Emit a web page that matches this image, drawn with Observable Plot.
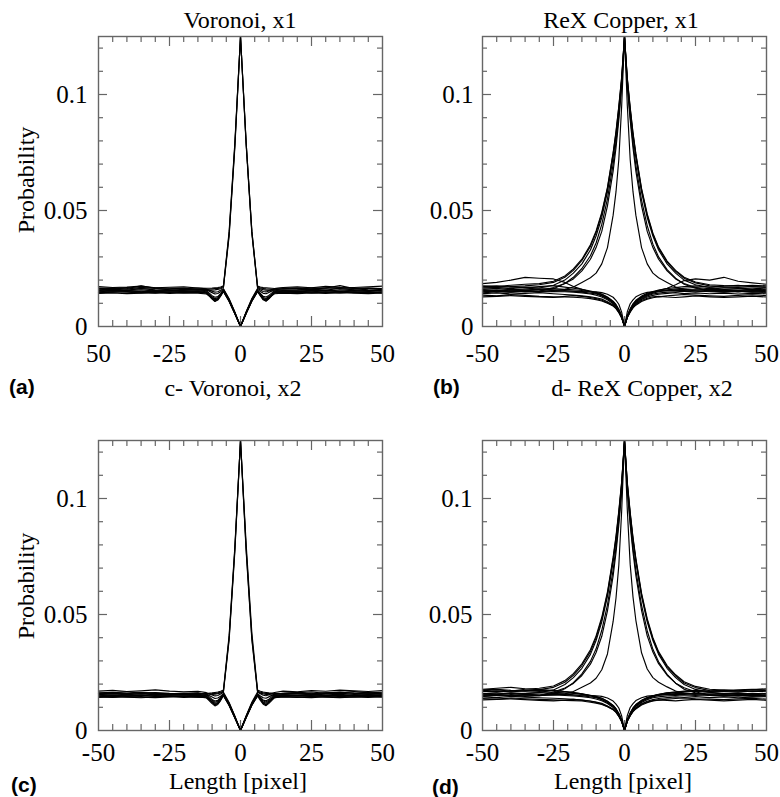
<!DOCTYPE html>
<html><head><meta charset="utf-8">
<script src="https://cdn.jsdelivr.net/npm/d3@7"></script>
<script src="https://cdn.jsdelivr.net/npm/@observablehq/plot@0.6"></script>
<style>
body{margin:0;background:#fff;}
#root{position:relative;width:780px;height:797px;background:#fff;overflow:hidden;}
.panel{position:absolute;width:390px;height:400px;}
.panel svg{overflow:visible;}
.panel svg text{font-family:"Liberation Serif","Times New Roman",serif !important;font-size:25px !important;font-variant:normal !important;}
.t{position:absolute;font-family:"Liberation Serif","Times New Roman",serif;font-size:24px;color:#000;white-space:nowrap;transform:translate(-50%,-50%);line-height:1;}
.lab{position:absolute;font-family:"Liberation Sans",Arial,sans-serif;font-weight:bold;font-size:21px;color:#000;white-space:nowrap;transform:translate(0,-50%);line-height:1;}
.ylab{position:absolute;font-family:"Liberation Serif","Times New Roman",serif;font-size:24px;color:#000;white-space:nowrap;transform:translate(-50%,-50%) rotate(-90deg);line-height:1;}
</style></head><body><div id="root"></div>
<script>
// ---------- axis ticks ----------
const xTicks = [-50, -25, 0, 25, 50];
const xTickLabelsA = ["50", "-25", "0", "25", "50"];
const xTickLabels = ["-50", "-25", "0", "25", "50"];
const yTicks = [0, 0.05, 0.1];
const yTickLabels = ["0", "0.05", "0.1"];
const xMinor = [-45, -40, -35, -30, -20, -15, -10, -5, 5, 10, 15, 20, 30, 35, 40, 45];
const xMajor = [-25, 0, 25];
const yMinor = [0.01, 0.02, 0.03, 0.04, 0.06, 0.07, 0.08, 0.09, 0.11, 0.12];
const yMajor = [0.05, 0.1];

// ---------- Voronoi grid (length, pixel) ----------
const gxV = [-50,-45,-40,-35,-30,-25,-20,-15,-12,-10,-9,-8,-7,-6,-4,-2,0,2,4,6,7,8,9,10,12,15,20,25,30,35,40,45,50];

// panel (a) Voronoi, x1
const a_p1 = [0.0158,0.0161,0.0157,0.0163,0.0158,0.0156,0.0160,0.0158,0.0160,0.0162,0.0163,0.0164,0.0166,0.0172,0.040,0.078,0.125,0.079,0.041,0.0170,0.0166,0.0164,0.0162,0.0161,0.0159,0.0157,0.0158,0.0161,0.0157,0.0164,0.0158,0.0156,0.0160];
const a_p2 = [0.0150,0.0153,0.0156,0.0150,0.0152,0.0149,0.0151,0.0153,0.0155,0.0157,0.0158,0.0160,0.0163,0.0168,0.039,0.077,0.125,0.078,0.040,0.0167,0.0162,0.0159,0.0157,0.0155,0.0153,0.0150,0.0152,0.0149,0.0154,0.0150,0.0152,0.0155,0.0151];
const a_p3 = [0.0166,0.0163,0.0168,0.0164,0.0167,0.0165,0.0163,0.0166,0.0165,0.0166,0.0167,0.0168,0.0170,0.0175,0.041,0.079,0.125,0.079,0.041,0.0174,0.0170,0.0168,0.0167,0.0166,0.0164,0.0166,0.0163,0.0167,0.0165,0.0168,0.0164,0.0166,0.0163];
const a_d1 = [0.0155,0.0152,0.0156,0.0158,0.0153,0.0155,0.0152,0.0154,0.0150,0.0122,0.0112,0.0118,0.0135,0.0155,0.0112,0.0058,0,0.0059,0.0113,0.0154,0.0136,0.0119,0.0113,0.0123,0.0150,0.0155,0.0153,0.0156,0.0152,0.0158,0.0154,0.0153,0.0157];
const a_d2 = [0.0147,0.0150,0.0148,0.0145,0.0149,0.0147,0.0150,0.0148,0.0144,0.0118,0.0108,0.0114,0.0131,0.0152,0.0109,0.0055,0,0.0056,0.0110,0.0151,0.0132,0.0115,0.0109,0.0119,0.0145,0.0149,0.0146,0.0150,0.0147,0.0145,0.0149,0.0148,0.0146];
const a_d3 = [0.0163,0.0166,0.0161,0.0169,0.0164,0.0162,0.0165,0.0161,0.0158,0.0146,0.0140,0.0142,0.0150,0.0160,0.0117,0.0061,0,0.0062,0.0118,0.0160,0.0151,0.0143,0.0141,0.0147,0.0158,0.0163,0.0166,0.0162,0.0167,0.0163,0.0161,0.0165,0.0162];
const a_d4 = [0.0145,0.0148,0.0151,0.0147,0.0144,0.0149,0.0146,0.0148,0.0145,0.0128,0.0120,0.0124,0.0138,0.0152,0.0110,0.0057,0,0.0058,0.0111,0.0151,0.0139,0.0125,0.0121,0.0129,0.0146,0.0146,0.0149,0.0145,0.0148,0.0151,0.0146,0.0148,0.0144];
const a_d5 = [0.0172,0.0168,0.0170,0.0174,0.0167,0.0169,0.0171,0.0166,0.0162,0.0152,0.0148,0.0150,0.0156,0.0163,0.0120,0.0063,0,0.0064,0.0121,0.0164,0.0157,0.0151,0.0149,0.0153,0.0163,0.0168,0.0171,0.0167,0.0173,0.0169,0.0168,0.0171,0.0174];
const a_d6 = [0.0152,0.0157,0.0153,0.0150,0.0156,0.0158,0.0154,0.0151,0.0148,0.0120,0.0110,0.0116,0.0133,0.0154,0.0113,0.0058,0,0.0059,0.0113,0.0153,0.0134,0.0117,0.0111,0.0121,0.0148,0.0153,0.0150,0.0155,0.0157,0.0152,0.0155,0.0151,0.0154];
const a_d7 = [0.0143,0.0145,0.0142,0.0144,0.0146,0.0143,0.0145,0.0144,0.0140,0.0124,0.0116,0.0120,0.0134,0.0150,0.0108,0.0055,0,0.0056,0.0109,0.0150,0.0135,0.0121,0.0117,0.0125,0.0141,0.0144,0.0142,0.0145,0.0143,0.0146,0.0144,0.0142,0.0145];
const a_d8 = [0.0157,0.0160,0.0164,0.0175,0.0165,0.0158,0.0156,0.0159,0.0154,0.0133,0.0126,0.0129,0.0142,0.0157,0.0114,0.0059,0,0.0060,0.0115,0.0156,0.0143,0.0130,0.0127,0.0134,0.0154,0.0158,0.0157,0.0160,0.0166,0.0176,0.0163,0.0158,0.0156];

// panel (c) Voronoi, x2
const c_p1 = [0.0155,0.0158,0.0154,0.0159,0.0156,0.0153,0.0157,0.0155,0.0159,0.0162,0.0164,0.0166,0.0169,0.0175,0.041,0.079,0.125,0.080,0.042,0.0174,0.0169,0.0166,0.0164,0.0162,0.0160,0.0156,0.0158,0.0155,0.0159,0.0161,0.0156,0.0158,0.0155];
const c_p2 = [0.0162,0.0165,0.0160,0.0163,0.0160,0.0158,0.0161,0.0159,0.0158,0.0159,0.0160,0.0162,0.0165,0.0170,0.040,0.078,0.125,0.078,0.040,0.0169,0.0165,0.0162,0.0160,0.0159,0.0157,0.0160,0.0163,0.0158,0.0162,0.0165,0.0161,0.0163,0.0160];
const c_p3 = [0.0148,0.0151,0.0149,0.0152,0.0148,0.0150,0.0147,0.0150,0.0152,0.0155,0.0157,0.0159,0.0162,0.0167,0.039,0.077,0.125,0.077,0.039,0.0166,0.0161,0.0158,0.0156,0.0154,0.0151,0.0149,0.0151,0.0148,0.0150,0.0152,0.0149,0.0151,0.0148];
const c_d1 = [0.0150,0.0153,0.0149,0.0147,0.0151,0.0148,0.0150,0.0152,0.0147,0.0120,0.0110,0.0116,0.0133,0.0153,0.0111,0.0057,0,0.0058,0.0112,0.0152,0.0134,0.0117,0.0111,0.0121,0.0148,0.0152,0.0149,0.0151,0.0147,0.0150,0.0153,0.0149,0.0151];
const c_d2 = [0.0143,0.0146,0.0144,0.0141,0.0145,0.0147,0.0143,0.0145,0.0141,0.0116,0.0106,0.0112,0.0129,0.0150,0.0108,0.0054,0,0.0055,0.0109,0.0149,0.0130,0.0113,0.0107,0.0117,0.0142,0.0146,0.0144,0.0142,0.0146,0.0143,0.0145,0.0147,0.0144];
const c_d3 = [0.0160,0.0163,0.0167,0.0161,0.0164,0.0160,0.0158,0.0161,0.0156,0.0144,0.0138,0.0140,0.0148,0.0159,0.0117,0.0061,0,0.0062,0.0118,0.0159,0.0149,0.0141,0.0139,0.0145,0.0157,0.0160,0.0163,0.0166,0.0160,0.0164,0.0168,0.0162,0.0165];
const c_d4 = [0.0148,0.0145,0.0150,0.0152,0.0147,0.0150,0.0148,0.0146,0.0146,0.0130,0.0122,0.0126,0.0139,0.0152,0.0110,0.0056,0,0.0057,0.0111,0.0151,0.0140,0.0127,0.0123,0.0131,0.0147,0.0147,0.0150,0.0148,0.0152,0.0146,0.0149,0.0151,0.0148];
const c_d5 = [0.0170,0.0173,0.0168,0.0171,0.0175,0.0170,0.0167,0.0169,0.0163,0.0153,0.0149,0.0151,0.0157,0.0165,0.0121,0.0063,0,0.0064,0.0122,0.0166,0.0158,0.0152,0.0150,0.0154,0.0164,0.0170,0.0167,0.0172,0.0169,0.0174,0.0171,0.0168,0.0172];
const c_d6 = [0.0156,0.0152,0.0155,0.0158,0.0154,0.0156,0.0153,0.0157,0.0150,0.0122,0.0112,0.0117,0.0134,0.0154,0.0114,0.0058,0,0.0059,0.0114,0.0153,0.0135,0.0118,0.0112,0.0122,0.0150,0.0155,0.0152,0.0157,0.0154,0.0156,0.0152,0.0155,0.0153];
const c_d7 = [0.0145,0.0143,0.0146,0.0144,0.0142,0.0145,0.0147,0.0144,0.0141,0.0125,0.0117,0.0121,0.0135,0.0151,0.0108,0.0055,0,0.0056,0.0109,0.0150,0.0136,0.0122,0.0118,0.0126,0.0142,0.0145,0.0143,0.0146,0.0144,0.0142,0.0145,0.0143,0.0146];
const c_d8 = [0.0158,0.0161,0.0159,0.0163,0.0160,0.0157,0.0159,0.0162,0.0155,0.0134,0.0127,0.0130,0.0143,0.0158,0.0115,0.0059,0,0.0060,0.0116,0.0157,0.0144,0.0131,0.0128,0.0135,0.0155,0.0159,0.0161,0.0158,0.0162,0.0166,0.0160,0.0158,0.0161];

// ---------- ReX Copper grid ----------
const gxR = [-50,-45,-40,-35,-30,-25,-21,-18,-15,-12,-10,-8,-6,-4,-3,-2,-1,0,1,2,3,4,6,8,10,12,15,18,21,25,30,35,40,45,50];

// panel (b) ReX Copper, x1
const b_p1 = [0.0160,0.0165,0.0158,0.0162,0.0166,0.0178,0.0200,0.0230,0.0270,0.0330,0.0390,0.0470,0.0580,0.0730,0.0820,0.0930,0.1060,0.1250,0.1060,0.0930,0.0820,0.0730,0.0580,0.0470,0.0390,0.0330,0.0270,0.0230,0.0200,0.0180,0.0168,0.0160,0.0163,0.0158,0.0161];
const b_p2 = [0.0170,0.0168,0.0172,0.0175,0.0180,0.0190,0.0212,0.0242,0.0285,0.0345,0.0405,0.0485,0.0595,0.0745,0.0835,0.0945,0.1070,0.1250,0.1065,0.0940,0.0830,0.0740,0.0590,0.0480,0.0398,0.0338,0.0278,0.0238,0.0208,0.0188,0.0175,0.0170,0.0168,0.0172,0.0169];
const b_p3 = [0.0150,0.0155,0.0152,0.0149,0.0153,0.0163,0.0185,0.0212,0.0250,0.0305,0.0360,0.0440,0.0550,0.0700,0.0795,0.0910,0.1045,0.1250,0.1045,0.0905,0.0790,0.0695,0.0545,0.0435,0.0355,0.0300,0.0245,0.0208,0.0182,0.0165,0.0155,0.0152,0.0150,0.0154,0.0151];
const b_p4 = [0.0145,0.0150,0.0148,0.0152,0.0150,0.0155,0.0160,0.0170,0.0190,0.0210,0.0230,0.0270,0.0340,0.0480,0.0580,0.0720,0.0950,0.1250,0.0950,0.0720,0.0580,0.0480,0.0340,0.0270,0.0230,0.0210,0.0190,0.0170,0.0160,0.0153,0.0150,0.0148,0.0152,0.0149,0.0147];
const b_p5 = [0.0175,0.0172,0.0178,0.0182,0.0185,0.0195,0.0218,0.0248,0.0290,0.0352,0.0412,0.0492,0.0600,0.0750,0.0840,0.0950,0.1075,0.1250,0.1070,0.0945,0.0835,0.0745,0.0595,0.0485,0.0402,0.0342,0.0282,0.0242,0.0212,0.0192,0.0180,0.0176,0.0174,0.0178,0.0175];
const b_p6 = [0.0155,0.0150,0.0153,0.0156,0.0152,0.0168,0.0185,0.0205,0.0240,0.0290,0.0340,0.0410,0.0520,0.0670,0.0770,0.0890,0.1030,0.1250,0.1030,0.0890,0.0770,0.0670,0.0520,0.0410,0.0340,0.0290,0.0240,0.0205,0.0185,0.0168,0.0153,0.0156,0.0150,0.0154,0.0152];
const b_d1 = [0.0150,0.0153,0.0148,0.0152,0.0149,0.0151,0.0150,0.0148,0.0145,0.0140,0.0135,0.0127,0.0115,0.0098,0.0085,0.0065,0.0040,0,0.0042,0.0068,0.0088,0.0102,0.0120,0.0132,0.0140,0.0144,0.0148,0.0150,0.0152,0.0150,0.0153,0.0149,0.0151,0.0148,0.0150];
const b_d2 = [0.0135,0.0132,0.0138,0.0134,0.0130,0.0128,0.0127,0.0126,0.0124,0.0120,0.0116,0.0110,0.0100,0.0088,0.0077,0.0060,0.0037,0,0.0039,0.0062,0.0080,0.0092,0.0108,0.0118,0.0124,0.0128,0.0132,0.0135,0.0138,0.0135,0.0132,0.0130,0.0134,0.0137,0.0133];
const b_d3 = [0.0165,0.0168,0.0163,0.0170,0.0166,0.0163,0.0160,0.0158,0.0155,0.0150,0.0145,0.0138,0.0125,0.0107,0.0093,0.0072,0.0045,0,0.0046,0.0074,0.0096,0.0110,0.0128,0.0140,0.0148,0.0153,0.0158,0.0162,0.0165,0.0168,0.0163,0.0167,0.0165,0.0162,0.0166];
const b_d4 = [0.0158,0.0155,0.0160,0.0157,0.0161,0.0158,0.0155,0.0152,0.0148,0.0144,0.0140,0.0132,0.0120,0.0102,0.0089,0.0068,0.0042,0,0.0044,0.0070,0.0091,0.0106,0.0124,0.0136,0.0144,0.0150,0.0155,0.0158,0.0160,0.0157,0.0161,0.0158,0.0156,0.0159,0.0157];
const b_d5 = [0.0185,0.0190,0.0200,0.0212,0.0208,0.0205,0.0190,0.0172,0.0160,0.0150,0.0143,0.0134,0.0122,0.0104,0.0090,0.0070,0.0043,0,0.0043,0.0071,0.0092,0.0107,0.0126,0.0139,0.0148,0.0155,0.0165,0.0180,0.0198,0.0205,0.0200,0.0212,0.0195,0.0188,0.0182];
const b_d6 = [0.0128,0.0130,0.0133,0.0130,0.0128,0.0125,0.0130,0.0133,0.0130,0.0125,0.0120,0.0113,0.0103,0.0090,0.0079,0.0062,0.0038,0,0.0040,0.0064,0.0082,0.0095,0.0112,0.0122,0.0128,0.0130,0.0127,0.0125,0.0128,0.0132,0.0128,0.0125,0.0128,0.0131,0.0127];
const b_d7 = [0.0142,0.0145,0.0140,0.0143,0.0146,0.0141,0.0138,0.0135,0.0132,0.0128,0.0124,0.0118,0.0107,0.0093,0.0081,0.0063,0.0039,0,0.0041,0.0066,0.0085,0.0098,0.0116,0.0127,0.0134,0.0139,0.0143,0.0146,0.0142,0.0145,0.0141,0.0144,0.0140,0.0143,0.0141];
const b_d8 = [0.0172,0.0175,0.0170,0.0168,0.0172,0.0176,0.0170,0.0165,0.0160,0.0153,0.0147,0.0140,0.0127,0.0109,0.0095,0.0074,0.0046,0,0.0047,0.0076,0.0098,0.0113,0.0131,0.0143,0.0151,0.0157,0.0163,0.0168,0.0172,0.0175,0.0170,0.0174,0.0177,0.0172,0.0170];
const b_d9 = [0.0155,0.0158,0.0154,0.0156,0.0159,0.0155,0.0153,0.0152,0.0151,0.0150,0.0149,0.0146,0.0139,0.0126,0.0113,0.0096,0.0062,0,0.0064,0.0098,0.0115,0.0128,0.0140,0.0147,0.0150,0.0152,0.0154,0.0156,0.0155,0.0158,0.0154,0.0157,0.0155,0.0153,0.0156];

// panel (d) ReX Copper, x2
const d_p1 = [0.0158,0.0162,0.0156,0.0160,0.0163,0.0175,0.0198,0.0228,0.0268,0.0328,0.0388,0.0468,0.0578,0.0728,0.0818,0.0928,0.1058,0.1250,0.1058,0.0928,0.0818,0.0728,0.0578,0.0468,0.0388,0.0328,0.0268,0.0228,0.0198,0.0177,0.0165,0.0158,0.0161,0.0156,0.0159];
const d_p2 = [0.0168,0.0166,0.0170,0.0172,0.0176,0.0186,0.0208,0.0238,0.0280,0.0340,0.0400,0.0480,0.0590,0.0740,0.0830,0.0940,0.1068,0.1250,0.1062,0.0935,0.0826,0.0736,0.0586,0.0476,0.0395,0.0335,0.0275,0.0235,0.0205,0.0185,0.0172,0.0168,0.0166,0.0170,0.0167];
const d_p3 = [0.0148,0.0152,0.0150,0.0147,0.0150,0.0160,0.0180,0.0206,0.0244,0.0298,0.0352,0.0432,0.0542,0.0692,0.0788,0.0905,0.1040,0.1250,0.1040,0.0900,0.0785,0.0690,0.0540,0.0430,0.0350,0.0296,0.0242,0.0204,0.0178,0.0162,0.0152,0.0150,0.0148,0.0151,0.0149];
const d_p4 = [0.0147,0.0151,0.0149,0.0153,0.0150,0.0154,0.0158,0.0168,0.0186,0.0205,0.0225,0.0262,0.0330,0.0470,0.0570,0.0712,0.0945,0.1250,0.0948,0.0716,0.0575,0.0475,0.0335,0.0265,0.0228,0.0208,0.0188,0.0170,0.0160,0.0155,0.0151,0.0149,0.0152,0.0148,0.0150];
const d_p5 = [0.0172,0.0175,0.0170,0.0178,0.0182,0.0192,0.0215,0.0245,0.0287,0.0348,0.0408,0.0488,0.0597,0.0747,0.0837,0.0947,0.1072,0.1250,0.1068,0.0942,0.0832,0.0742,0.0592,0.0482,0.0400,0.0340,0.0280,0.0240,0.0210,0.0190,0.0178,0.0174,0.0171,0.0176,0.0173];
const d_p6 = [0.0152,0.0155,0.0150,0.0154,0.0151,0.0166,0.0183,0.0203,0.0237,0.0286,0.0336,0.0406,0.0516,0.0666,0.0766,0.0886,0.1026,0.1250,0.1028,0.0888,0.0768,0.0668,0.0518,0.0408,0.0338,0.0288,0.0238,0.0204,0.0184,0.0167,0.0152,0.0155,0.0151,0.0153,0.0150];
const d_d1 = [0.0152,0.0155,0.0150,0.0154,0.0151,0.0153,0.0151,0.0149,0.0146,0.0141,0.0136,0.0128,0.0116,0.0099,0.0086,0.0066,0.0041,0,0.0043,0.0069,0.0089,0.0103,0.0121,0.0133,0.0141,0.0145,0.0149,0.0151,0.0153,0.0151,0.0154,0.0150,0.0152,0.0149,0.0151];
const d_d2 = [0.0138,0.0135,0.0140,0.0137,0.0134,0.0132,0.0130,0.0129,0.0127,0.0122,0.0118,0.0112,0.0102,0.0089,0.0078,0.0061,0.0038,0,0.0040,0.0063,0.0081,0.0093,0.0110,0.0120,0.0127,0.0131,0.0135,0.0138,0.0140,0.0137,0.0135,0.0133,0.0136,0.0139,0.0135];
const d_d3 = [0.0168,0.0170,0.0166,0.0172,0.0168,0.0165,0.0162,0.0160,0.0156,0.0151,0.0146,0.0139,0.0126,0.0108,0.0094,0.0073,0.0045,0,0.0046,0.0075,0.0097,0.0111,0.0129,0.0141,0.0149,0.0154,0.0159,0.0163,0.0166,0.0169,0.0165,0.0168,0.0166,0.0170,0.0172];
const d_d4 = [0.0160,0.0157,0.0162,0.0159,0.0163,0.0160,0.0157,0.0154,0.0150,0.0145,0.0141,0.0133,0.0121,0.0103,0.0090,0.0069,0.0043,0,0.0045,0.0071,0.0092,0.0107,0.0125,0.0137,0.0145,0.0151,0.0156,0.0159,0.0161,0.0158,0.0162,0.0159,0.0157,0.0160,0.0158];
const d_d5 = [0.0178,0.0182,0.0186,0.0180,0.0176,0.0172,0.0168,0.0164,0.0158,0.0150,0.0143,0.0134,0.0122,0.0104,0.0090,0.0070,0.0043,0,0.0043,0.0071,0.0092,0.0107,0.0126,0.0139,0.0148,0.0155,0.0162,0.0166,0.0168,0.0172,0.0170,0.0174,0.0171,0.0176,0.0180];
const d_d6 = [0.0132,0.0134,0.0136,0.0133,0.0130,0.0128,0.0131,0.0134,0.0131,0.0126,0.0121,0.0114,0.0104,0.0091,0.0080,0.0063,0.0039,0,0.0041,0.0065,0.0083,0.0096,0.0113,0.0123,0.0129,0.0132,0.0130,0.0128,0.0131,0.0134,0.0131,0.0128,0.0131,0.0134,0.0130];
const d_d7 = [0.0145,0.0142,0.0147,0.0144,0.0141,0.0139,0.0137,0.0134,0.0131,0.0127,0.0123,0.0117,0.0106,0.0092,0.0080,0.0062,0.0039,0,0.0041,0.0065,0.0084,0.0097,0.0115,0.0126,0.0133,0.0138,0.0142,0.0145,0.0143,0.0146,0.0142,0.0145,0.0141,0.0144,0.0146];
const d_d8 = [0.0175,0.0178,0.0173,0.0170,0.0174,0.0172,0.0168,0.0163,0.0158,0.0152,0.0146,0.0139,0.0126,0.0108,0.0094,0.0073,0.0046,0,0.0047,0.0075,0.0097,0.0112,0.0130,0.0142,0.0150,0.0156,0.0162,0.0166,0.0170,0.0173,0.0168,0.0172,0.0175,0.0178,0.0174];
const d_d9 = [0.0157,0.0155,0.0159,0.0156,0.0154,0.0157,0.0155,0.0153,0.0152,0.0151,0.0150,0.0147,0.0140,0.0127,0.0114,0.0097,0.0063,0,0.0065,0.0099,0.0116,0.0129,0.0141,0.0148,0.0151,0.0153,0.0155,0.0157,0.0156,0.0159,0.0155,0.0158,0.0156,0.0154,0.0157];

// ---------- drawing ----------
const SERIF = "Liberation Serif, Times New Roman, serif";
function rowsOf(gx, curves) {
  const rows = [];
  curves.forEach((vals, k) => vals.forEach((v, i) => { if (i < gx.length) rows.push({x: gx[i], y: v, id: k}); }));
  return rows;
}

function panel(gx, curves, o) {
  const W = 390, H = 400;
  const fw = W - o.ml - o.mr, fh = H - o.mt - o.mb;
  const xl = new Map(xTicks.map((t, i) => [t, o.xlabels[i]]));
  const yl = new Map(yTicks.map((t, i) => [t, yTickLabels[i]]));
  const tc = "#666";
  return Plot.plot({
    width: W, height: H,
    marginLeft: o.ml, marginRight: o.mr, marginTop: o.mt, marginBottom: o.mb,
    x: {domain: [-50, 50]},
    y: {domain: [0, 0.125]},
    style: {fontFamily: SERIF, fontSize: "25px", color: "#000", background: "transparent"},
    marks: [
      Plot.tickY(yMinor, {y: d => d, stroke: tc, strokeWidth: 1.2, insetRight: fw - 5}),
      Plot.tickY(yMinor, {y: d => d, stroke: tc, strokeWidth: 1.2, insetLeft: fw - 5}),
      Plot.tickY(yMajor, {y: d => d, stroke: tc, strokeWidth: 1.2, insetRight: fw - 9}),
      Plot.tickY(yMajor, {y: d => d, stroke: tc, strokeWidth: 1.2, insetLeft: fw - 9}),
      Plot.tickX(xMinor, {x: d => d, stroke: tc, strokeWidth: 1.2, insetTop: fh - 6}),
      Plot.tickX(xMinor, {x: d => d, stroke: tc, strokeWidth: 1.2, insetBottom: fh - 6}),
      Plot.tickX(xMajor, {x: d => d, stroke: tc, strokeWidth: 1.2, insetTop: fh - 10}),
      Plot.tickX(xMajor, {x: d => d, stroke: tc, strokeWidth: 1.2, insetBottom: fh - 10}),
      Plot.line(rowsOf(gx, curves), {x: "x", y: "y", z: "id", stroke: "#000", strokeWidth: 1.15}),
      Plot.frame({stroke: tc, strokeWidth: 1.4}),
      Plot.axisX(xTicks, {tickSize: 0, tickPadding: o.xpad, label: null, tickFormat: d => xl.get(d), fill: "#000", fontFamily: SERIF, fontSize: 25}),
      Plot.axisY(yTicks, {tickSize: 0, tickPadding: o.ypad, label: null, tickFormat: d => yl.get(d), fill: "#000", fontFamily: SERIF, fontSize: 25})
    ]
  });
}

const root = document.getElementById("root");
function place(node, left, top) {
  const d = document.createElement("div");
  d.className = "panel";
  d.style.left = left + "px";
  d.style.top = top + "px";
  d.appendChild(node);
  root.appendChild(d);
}
place(panel(gxV, [a_p1, a_p2, a_p3, a_d1, a_d2, a_d3, a_d4, a_d5, a_d6, a_d7, a_d8],
  {ml: 98, mr: 8, mt: 36, mb: 74, xpad: 18, ypad: 11, xlabels: xTickLabelsA}), 0, 0);
place(panel(gxR, [b_p1, b_p2, b_p3, b_p4, b_p5, b_p6, b_d1, b_d2, b_d3, b_d4, b_d5, b_d6, b_d7, b_d8, b_d9],
  {ml: 92, mr: 14, mt: 36, mb: 74, xpad: 18, ypad: 9, xlabels: xTickLabels}), 390, 0);
place(panel(gxV, [c_p1, c_p2, c_p3, c_d1, c_d2, c_d3, c_d4, c_d5, c_d6, c_d7, c_d8],
  {ml: 98, mr: 8, mt: 40, mb: 70, xpad: 13, ypad: 11, xlabels: xTickLabels}), 0, 400);
place(panel(gxR, [d_p1, d_p2, d_p3, d_p4, d_p5, d_p6, d_d1, d_d2, d_d3, d_d4, d_d5, d_d6, d_d7, d_d8, d_d9],
  {ml: 92, mr: 14, mt: 40, mb: 70, xpad: 13, ypad: 10, xlabels: xTickLabels}), 390, 400);

function text(cls, str, x, y) {
  const d = document.createElement("div");
  d.className = cls;
  d.textContent = str;
  d.style.left = x + "px";
  d.style.top = y + "px";
  root.appendChild(d);
}
text("t", "Voronoi, x1", 240, 20);
text("t", "ReX Copper, x1", 621, 20);
text("t", "c- Voronoi, x2", 233, 388);
text("t", "d- ReX Copper, x2", 642, 388);
text("t", "Length [pixel]", 238, 781);
text("t", "Length [pixel]", 623, 781);
text("ylab", "Probability", 26, 180);
text("ylab", "Probability", 26, 586);
text("lab", "(a)", 9, 386);
text("lab", "(b)", 433, 386);
text("lab", "(c)", 11, 784);
text("lab", "(d)", 432, 786);
</script></body></html>
